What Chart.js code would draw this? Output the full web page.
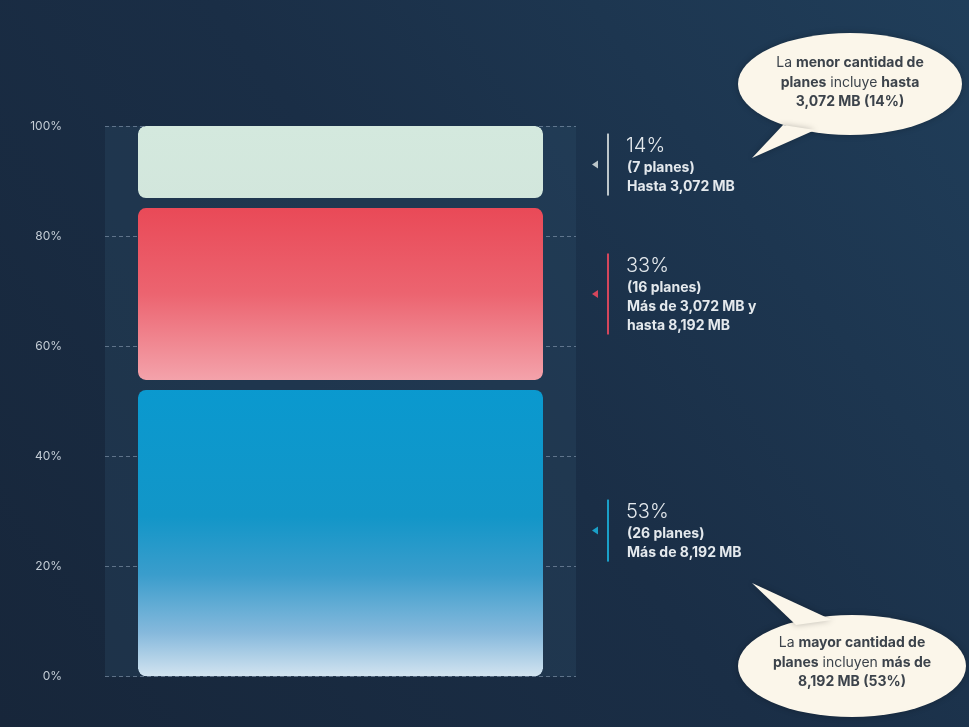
<!doctype html>
<html>

<head>
	<title>Planes por capacidad de datos</title>
	<script src="https://cdn.jsdelivr.net/npm/chart.js@4.4.1/dist/chart.umd.min.js"></script>
	<style>
		html, body { margin: 0; padding: 0; background: #1a2c43; }
		#canvas-holder { width: 969px; height: 727px; }
	</style>
</head>

<body>
	<div id="canvas-holder">
		<canvas id="chart-area" width="969" height="727"></canvas>
	</div>

	<script>
		// data: share of plans per data-cap bracket, bottom to top
		const categories = [''];
		const segmentNames = ['Más de 8,192 MB', 'Más de 3,072 MB y hasta 8,192 MB', 'Hasta 3,072 MB'];
		const shares = [53, 33, 14];
		const planCounts = [26, 16, 7];
		const noteLines = [
			['Más de 8,192 MB'],
			['Más de 3,072 MB y', 'hasta 8,192 MB'],
			['Hasta 3,072 MB']
		];
		const yTicks = [0, 20, 40, 60, 80, 100];

		// callout texts, as [text, bold] runs per line
		const topCallout = [
			[['La ', false], ['menor cantidad de', true]],
			[['planes', true], [' incluye ', false], ['hasta', true]],
			[['3,072 MB (14%)', true]]
		];
		const bottomCallout = [
			[['La ', false], ['mayor cantidad de', true]],
			[['planes', true], [' incluyen ', false], ['más de', true]],
			[['8,192 MB (53%)', true]]
		];

		const FONT = 'Inter, "Noto Sans", sans-serif';
		const gradientStops = [
			[[0, '#0a99cf'], [0.45, '#1296c8'], [0.65, '#3a9dcc'], [0.85, '#86b9dc'], [1, '#d3e4f0']],
			[[0, '#e94856'], [0.5, '#ec6470'], [1, '#f4a6ae']],
			[[0, '#d4e9de'], [1, '#d2e6dc']]
		];
		const accent = ['#1aa0c8', '#d4465c', '#bcc6ca'];

		function barFill(ctx, i) {
			const chart = ctx.chart;
			if (!chart.chartArea) {
				return gradientStops[i][0][1];
			}
			const y = chart.scales.y;
			const from = shares.slice(0, i).reduce((a, b) => a + b, 0);
			const g = chart.ctx.createLinearGradient(0, y.getPixelForValue(from + shares[i]), 0, y.getPixelForValue(from));
			gradientStops[i].forEach(s => g.addColorStop(s[0], s[1]));
			return g;
		}

		function radiusFor(i) {
			const r = 8, gap = 5;
			return {
				topLeft: i === 2 ? r : r + gap,
				topRight: i === 2 ? r : r + gap,
				bottomLeft: i === 0 ? r : r + gap,
				bottomRight: i === 0 ? r : r + gap
			};
		}

		// page background and the column panel behind the bar
		const backdrop = {
			id: 'backdrop',
			beforeDraw(chart) {
				const { ctx, width, height, chartArea } = chart;
				ctx.save();
				const bg = ctx.createLinearGradient(0, height, width, 0);
				bg.addColorStop(0, '#17263a');
				bg.addColorStop(0.5, '#1a2e46');
				bg.addColorStop(1, '#203e5a');
				ctx.fillStyle = bg;
				ctx.fillRect(0, 0, width, height);
				ctx.fillStyle = 'rgba(45, 78, 105, 0.3)';
				ctx.fillRect(chartArea.left, chartArea.top, chartArea.right - chartArea.left, chartArea.bottom - chartArea.top);
				ctx.restore();
			}
		};

		function drawRuns(ctx, runs, cx, cy, size) {
			const fontFor = b => (b ? '700 ' : '400 ') + size + 'px ' + FONT;
			let total = 0;
			runs.forEach(r => { ctx.font = fontFor(r[1]); total += ctx.measureText(r[0]).width; });
			let x = cx - total / 2;
			runs.forEach(r => {
				ctx.font = fontFor(r[1]);
				ctx.fillText(r[0], x, cy);
				x += ctx.measureText(r[0]).width;
			});
		}

		function drawBubble(ctx, cx, cy, rx, ry, tail, lines, firstY) {
			ctx.save();
			ctx.fillStyle = '#fbf6ea';
			ctx.shadowColor = 'rgba(0,0,0,0.25)';
			ctx.shadowBlur = 6;
			ctx.beginPath();
			ctx.ellipse(cx, cy, rx, ry, 0, 0, Math.PI * 2);
			ctx.fill();
			ctx.beginPath();
			ctx.moveTo(tail[0][0], tail[0][1]);
			ctx.lineTo(tail[1][0], tail[1][1]);
			ctx.lineTo(tail[2][0], tail[2][1]);
			ctx.closePath();
			ctx.fill();
			ctx.shadowColor = 'transparent';
			ctx.fillStyle = '#3c434b';
			ctx.textAlign = 'left';
			ctx.textBaseline = 'middle';
			lines.forEach((runs, k) => drawRuns(ctx, runs, cx, firstY + k * 19.5, 14));
			ctx.restore();
		}

		// side notes for each segment plus the two callouts
		const notes = {
			id: 'notes',
			afterDatasetsDraw(chart) {
				const ctx = chart.ctx;
				ctx.save();
				shares.forEach((v, i) => {
					const el = chart.getDatasetMeta(i).data[0];
					const c = (el.y + el.base) / 2;
					const lines = ['(' + planCounts[i] + ' planes)'].concat(noteLines[i]);
					const h = 24 + lines.length * 19;
					const top = c - h / 2;
					ctx.fillStyle = accent[i];
					ctx.fillRect(607, top, 2, h);
					ctx.beginPath();
					ctx.moveTo(592, c);
					ctx.lineTo(598, c - 4);
					ctx.lineTo(598, c + 4);
					ctx.closePath();
					ctx.fill();
					ctx.fillStyle = '#e4e9ed';
					ctx.textAlign = 'left';
					ctx.textBaseline = 'middle';
					ctx.font = '300 20px ' + FONT;
					ctx.fillText(v + '%', 626, top + 12);
					ctx.font = '700 14px ' + FONT;
					lines.forEach((t, k) => ctx.fillText(t, 627, top + 34 + k * 19));
				});
				ctx.restore();
				drawBubble(ctx, 850, 84, 112, 51, [[783, 125], [815, 130], [752, 158]], topCallout, 63);
				drawBubble(ctx, 852, 666, 114, 51, [[796, 625], [832, 620], [752, 583]], bottomCallout, 643);
			}
		};

		const ctx2d = document.getElementById('chart-area').getContext('2d');
		window.planChart = new Chart(ctx2d, {
			type: 'bar',
			data: {
				labels: categories,
				datasets: shares.map((v, i) => ({
					label: segmentNames[i],
					data: [v],
					backgroundColor: ctx => barFill(ctx, i),
					borderColor: 'rgba(0,0,0,0)',
					borderWidth: { top: i === 2 ? 0 : 5, bottom: i === 0 ? 0 : 5, left: 0, right: 0 },
					borderSkipped: false,
					borderRadius: radiusFor(i),
					barPercentage: 0.86,
					categoryPercentage: 1
				}))
			},
			options: {
				responsive: false,
				animation: false,
				layout: { padding: { left: 0, right: 393, top: 126, bottom: 45 } },
				scales: {
					x: { stacked: true, display: false },
					y: {
						stacked: true,
						min: 0,
						max: 100,
						afterFit(scale) { scale.width = 105; },
						afterBuildTicks(scale) { scale.ticks = yTicks.map(v => ({ value: v })); },
						border: { display: false, dash: [4, 3] },
						grid: {
							color: 'rgba(150, 168, 190, 0.55)',
							lineWidth: 1,
							drawTicks: false
						},
						ticks: {
							padding: 43,
							color: '#c3ccd5',
							font: { family: FONT, size: 12 },
							callback: v => v + '%'
						}
					}
				},
				plugins: {
					legend: { display: false },
					tooltip: { enabled: false }
				}
			},
			plugins: [backdrop, notes]
		});
	</script>
</body>
</html>
